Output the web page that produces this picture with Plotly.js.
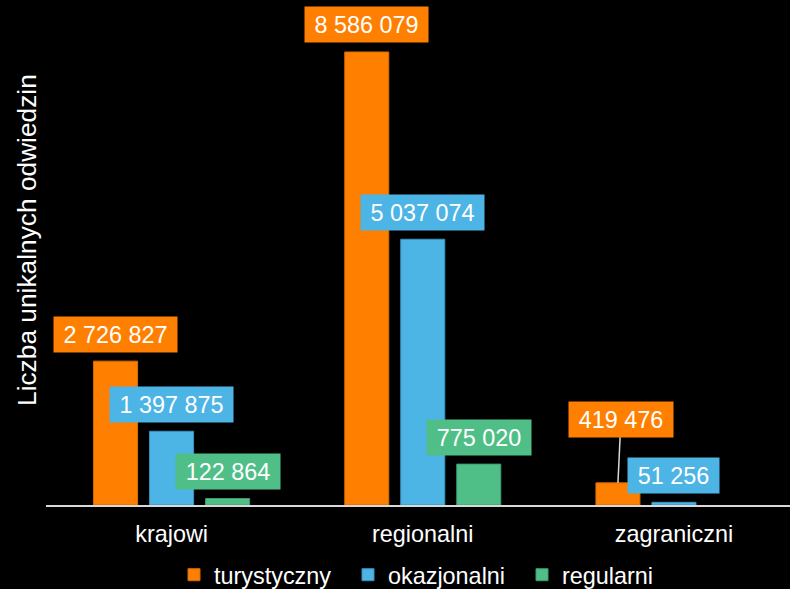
<!DOCTYPE html>
<html>
<head>
<meta charset="utf-8">
<script src="https://cdn.plot.ly/plotly-3.0.1.min.js"></script>
<style>
html,body{margin:0;padding:0;background:#000;}
#chart{width:790px;height:589px;}
</style>
</head>
<body>
<div id="chart"></div>
<script>
const categories = ['krajowi', 'regionalni', 'zagraniczni'];
const seriesNames = ['turystyczny', 'okazjonalni', 'regularni'];
const turystyczny = [2726827, 8586079, 419476];
const okazjonalni = [1397875, 5037074, 51256];
const regularni = [122864, 775020, null];
const yAxisTitle = 'Liczba unikalnych odwiedzin';

const seriesValues = [turystyczny, okazjonalni, regularni];
const colors = ['#FF7F00', '#4DB4E6', '#50BF87'];
const lineColors = ['#D96C00', '#3A93BF', '#3F9C6D'];
const FONT = '"Liberation Sans", Arial, sans-serif';
const FS = 23.4;
const bargap = 0.331;
const slot = (1 - bargap) / 3;

function fmt(v) { return String(v).replace(/\B(?=(\d{3})+(?!\d))/g, ' '); }
const cv = document.createElement('canvas').getContext('2d');
cv.font = FS + 'px "Liberation Sans", Arial';
function tw(s) { return cv.measureText(s).width; }

const traces = seriesNames.map((name, j) => ({
  type: 'bar',
  name: name,
  x: categories,
  y: seriesValues[j],
  marker: { color: colors[j], line: { color: lineColors[j], width: 1 } },
  hoverinfo: 'skip'
}));

const annotations = [];
seriesValues.forEach((vals, j) => {
  vals.forEach((v, i) => {
    if (v === null) return;
    const txt = fmt(v);
    const a = {
      xref: 'x', yref: 'y',
      x: i + (j - 1) * slot, y: v,
      text: txt,
      font: { family: FONT, size: FS, color: '#FFFFFF' },
      bgcolor: colors[j],
      borderpad: 0,
      width: Math.round(tw(txt) + 19),
      height: 35,
      showarrow: false,
      xanchor: 'center', yanchor: 'bottom',
      yshift: 8.5
    };
    if (i === 2 && j === 0) {
      a.showarrow = true;
      a.arrowhead = 0;
      a.arrowwidth = 1.5;
      a.arrowcolor = '#D9D9D9';
      a.ax = 3; a.ay = -63.5;
      a.xanchor = 'center'; a.yanchor = 'middle';
      a.yshift = 0;
    }
    annotations.push(a);
  });
});

annotations.push({
  xref: 'paper', yref: 'paper',
  x: -(46 - 27) / 744, y: (505 - 240) / 495,
  text: yAxisTitle, textangle: -90,
  showarrow: false, xanchor: 'center', yanchor: 'middle',
  font: { family: FONT, size: 26.3, color: '#FFFFFF' }
});

const layout = {
  width: 790, height: 589,
  paper_bgcolor: '#000000', plot_bgcolor: '#000000',
  margin: { l: 46, r: 0, t: 10, b: 84, autoexpand: false },
  barmode: 'group', bargap: bargap, bargroupgap: 0.214,
  font: { family: FONT, size: FS, color: '#FFFFFF' },
  showlegend: true,
  legend: {
    orientation: 'h', x: 0.5 + 17 / 744, xanchor: 'center', y: -92 / 495, yanchor: 'bottom',
    font: { family: FONT, size: FS, color: '#FFFFFF' },
    entrywidth: 129, entrywidthmode: 'pixels',
    bgcolor: 'rgba(0,0,0,0)', traceorder: 'normal', itemclick: false
  },
  xaxis: {
    type: 'category', range: [-0.5, 2.462],
    showline: true, linecolor: '#D9D9D9', linewidth: 2,
    ticks: '', showgrid: false, zeroline: false, ticklabelstandoff: 7,
    tickfont: { family: FONT, size: FS, color: '#FFFFFF' }
  },
  yaxis: {
    range: [0, 9382000], showticklabels: false, showgrid: false,
    zeroline: false, showline: false, ticks: ''
  },
  annotations: annotations
};

Plotly.newPlot('chart', traces, layout, { staticPlot: true, displayModeBar: false });
</script>
</body>
</html>
